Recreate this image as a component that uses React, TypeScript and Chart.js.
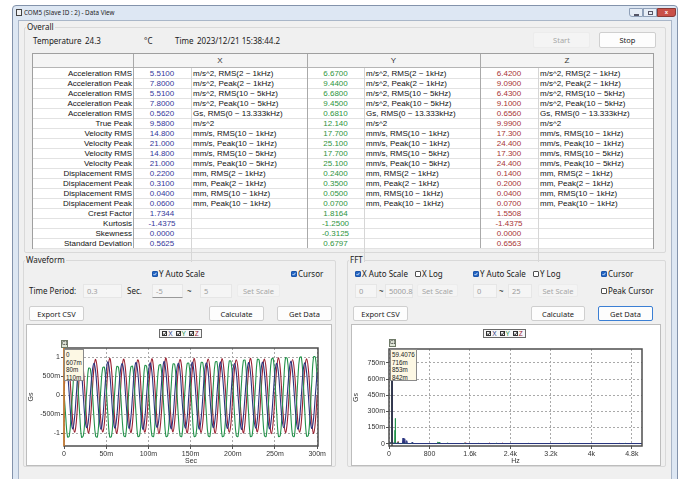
import React, { useEffect, useRef } from "react";
import { Chart, registerables } from "chart.js";

Chart.register(...registerables);

// ---------------- Overall table data ----------------
const rowLabels = [
  "Acceleration RMS", "Acceleration Peak", "Acceleration RMS", "Acceleration Peak",
  "Acceleration RMS", "True Peak", "Velocity RMS", "Velocity Peak", "Velocity RMS",
  "Velocity Peak", "Displacement RMS", "Displacement Peak", "Displacement RMS",
  "Displacement Peak", "Crest Factor", "Kurtosis", "Skewness", "Standard Deviation",
];
const unitLabels = [
  "m/s^2, RMS(2 ~ 1kHz)", "m/s^2, Peak(2 ~ 1kHz)", "m/s^2, RMS(10 ~ 5kHz)",
  "m/s^2, Peak(10 ~ 5kHz)", "Gs, RMS(0 ~ 13.333kHz)", "m/s^2", "mm/s, RMS(10 ~ 1kHz)",
  "mm/s, Peak(10 ~ 1kHz)", "mm/s, RMS(10 ~ 5kHz)", "mm/s, Peak(10 ~ 5kHz)",
  "mm, RMS(2 ~ 1kHz)", "mm, Peak(2 ~ 1kHz)", "mm, RMS(10 ~ 1kHz)", "mm, Peak(10 ~ 1kHz)",
  "", "", "", "",
];
const xValues = ["5.5100", "7.8000", "5.5100", "7.8000", "0.5620", "9.5800", "14.800", "21.000", "14.800", "21.000", "0.2200", "0.3100", "0.0400", "0.0600", "1.7344", "-1.4375", "0.0000", "0.5625"];
const yValues = ["6.6700", "9.4400", "6.6800", "9.4500", "0.6810", "12.140", "17.700", "25.100", "17.700", "25.100", "0.2400", "0.3500", "0.0500", "0.0700", "1.8164", "-1.2500", "-0.3125", "0.6797"];
const zValues = ["6.4200", "9.0900", "6.4300", "9.1000", "0.6560", "9.9900", "17.300", "24.400", "17.300", "24.400", "0.1400", "0.2000", "0.0400", "0.0700", "1.5508", "-1.4375", "0.0000", "0.6563"];
const axisNames = ["X", "Y", "Z"];

// ---------------- Waveform data (Gs), 145 samples over 0..300 ms ----------------
const waveDurationMs = 300;
const waveX = [
  0.607, 0.85, 0.60, 0.02, -0.62, -0.88, -0.59, 0.01,
  0.63, 0.87, 0.58, -0.03, -0.64, -0.85, -0.62, 0.03,
  0.59, 0.84, 0.62, 0.01, -0.60, -0.89, -0.63, -0.02,
  0.62, 0.88, 0.60, -0.01, -0.63, -0.86, -0.58, 0.02,
  0.60, 0.83, 0.63, 0.03, -0.59, -0.87, -0.61, 0.00,
  0.64, 0.86, 0.59, -0.02, -0.62, -0.90, -0.60, 0.01,
  0.58, 0.85, 0.61, 0.00, -0.65, -0.84, -0.62, -0.01,
  0.62, 0.89, 0.60, 0.02, -0.61, -0.88, -0.59, 0.03,
  0.61, 0.84, 0.64, -0.01, -0.60, -0.86, -0.63, 0.00,
  0.59, 0.87, 0.58, 0.01, -0.63, -0.89, -0.61, -0.02,
  0.63, 0.85, 0.62, -0.02, -0.62, -0.85, -0.60, 0.02,
  0.60, 0.88, 0.59, 0.03, -0.64, -0.87, -0.62, 0.01,
  0.62, 0.83, 0.61, 0.00, -0.59, -0.90, -0.58, -0.01,
  0.58, 0.86, 0.63, -0.01, -0.61, -0.86, -0.63, 0.02,
  0.64, 0.87, 0.60, 0.02, -0.63, -0.88, -0.60, 0.00,
  0.61, 0.84, 0.58, -0.03, -0.62, -0.85, -0.61, 0.01,
  0.59, 0.89, 0.62, 0.01, -0.60, -0.89, -0.62, -0.02,
  0.63, 0.85, 0.60, 0.00, -0.64, -0.87, -0.59, 0.02,
  0.60,
];
const waveY = [
  0.08, -0.57, -1.09, -1.07, -0.55, 0.15, 0.69, 0.67,
  0.19, -0.55, -1.10, -1.06, -0.57, 0.18, 0.71, 0.69,
  0.18, -0.56, -1.07, -1.09, -0.54, 0.20, 0.72, 0.73,
  0.22, -0.54, -1.09, -1.08, -0.56, 0.20, 0.75, 0.73,
  0.21, -0.55, -1.06, -1.08, -0.53, 0.23, 0.74, 0.76,
  0.24, -0.52, -1.08, -1.06, -0.54, 0.22, 0.78, 0.76,
  0.24, -0.54, -1.06, -1.08, -0.52, 0.26, 0.78, 0.80,
  0.27, -0.51, -1.08, -1.06, -0.53, 0.25, 0.82, 0.80,
  0.26, -0.52, -1.06, -1.08, -0.50, 0.28, 0.82, 0.84,
  0.30, -0.50, -1.08, -1.06, -0.52, 0.28, 0.86, 0.84,
  0.29, -0.51, -1.06, -1.08, -0.49, 0.31, 0.86, 0.88,
  0.33, -0.49, -1.08, -1.06, -0.51, 0.31, 0.90, 0.88,
  0.32, -0.50, -1.06, -1.08, -0.48, 0.34, 0.90, 0.92,
  0.35, -0.47, -1.08, -1.06, -0.49, 0.33, 0.94, 0.92,
  0.35, -0.49, -1.06, -1.08, -0.47, 0.37, 0.94, 0.96,
  0.38, -0.46, -1.08, -1.06, -0.48, 0.36, 0.98, 0.96,
  0.38, -0.48, -1.06, -1.08, -0.46, 0.40, 0.98, 1.00,
  0.41, -0.45, -1.07, -1.05, -0.47, 0.39, 1.01, 0.99,
  0.42,
];
const waveZ = [
  0.11, 0.69, 0.95, 0.70, 0.02, -0.68, -0.97, -0.70,
  -0.01, 0.69, 0.96, 0.68, -0.02, -0.71, -0.99, -0.67,
  0.03, 0.70, 0.94, 0.66, 0.01, -0.69, -0.96, -0.72,
  -0.02, 0.67, 0.97, 0.70, -0.01, -0.70, -1.00, -0.68,
  0.01, 0.71, 0.95, 0.67, 0.02, -0.67, -0.98, -0.71,
  0.00, 0.68, 0.93, 0.72, -0.03, -0.72, -0.97, -0.69,
  0.02, 0.66, 0.96, 0.69, 0.00, -0.69, -1.01, -0.70,
  -0.03, 0.70, 0.98, 0.67, 0.02, -0.70, -0.96, -0.66,
  0.01, 0.69, 0.94, 0.71, -0.02, -0.68, -0.99, -0.71,
  0.02, 0.67, 0.97, 0.68, 0.01, -0.71, -0.98, -0.69,
  -0.01, 0.71, 0.95, 0.70, -0.01, -0.69, -1.00, -0.68,
  0.03, 0.68, 0.96, 0.66, 0.02, -0.70, -0.97, -0.72,
  0.00, 0.70, 0.93, 0.69, -0.02, -0.67, -0.99, -0.70,
  -0.02, 0.66, 0.97, 0.71, 0.01, -0.71, -0.96, -0.67,
  0.02, 0.69, 0.95, 0.68, 0.00, -0.70, -1.01, -0.69,
  0.01, 0.71, 0.98, 0.70, -0.03, -0.68, -0.98, -0.71,
  -0.01, 0.67, 0.94, 0.67, 0.02, -0.69, -0.97, -0.70,
  0.02, 0.70, 0.96, 0.69, -0.01, -0.72, -1.00, -0.68,
  0.01,
];
const waveXTicks = [0, 50, 100, 150, 200, 250, 300];
const waveXTickLabels = ["0", "50m", "100m", "150m", "200m", "250m", "300m"];
const waveYTicks = [-1, -0.5, 0, 0.5, 1];
const waveYTickLabels = ["-1", "-500m", "0", "500m", "1"];
const waveCursorMs = 0;
const waveCursorReadout = ["0", "607m", "80m", "110m"];

// ---------------- FFT data (Hz, Gs) ----------------
const fftFreqX = [0, 3.3, 52.8, 56.1, 59.4, 62.7, 66.0, 72.6, 264.0, 277.2, 290.4, 297.0, 310.2, 323.4, 336.6, 349.8, 363.0, 442.2, 455.4, 468.6, 957.0, 970.2, 983.4, 1478.4, 1491.6, 1504.8, 2105.4, 2118.6, 2131.8, 3557.4, 3570.6, 3583.8, 4653.6, 4666.8, 4680.0, 5000.8];
const fftAmpX = [0.002, 0.004, 0.006, 0.030, 0.716, 0.445, 0.034, 0.004, 0.001, 0.052, 0.002, 0.001, 0.046, 0.002, 0.001, 0.028, 0.001, 0.001, 0.012, 0.001, 0.001, 0.005, 0.001, 0.001, 0.004, 0.001, 0.001, 0.005, 0.001, 0.001, 0.003, 0.001, 0.001, 0.004, 0.001, 0.001];
const fftFreqY = [0, 3.3, 52.8, 56.1, 59.4, 62.7, 66.0, 72.6, 112.2, 118.8, 122.1, 125.4, 132.0, 171.6, 178.2, 184.8, 950.4, 963.6, 976.8, 990.0, 1003.2, 1135.2, 1148.4, 1161.6, 1749.0, 1762.2, 1775.4, 2739.0, 2752.2, 2765.4, 5000.8];
const fftAmpY = [0.002, 0.003, 0.008, 0.045, 0.853, 0.520, 0.040, 0.003, 0.002, 0.125, 0.235, 0.030, 0.002, 0.001, 0.010, 0.001, 0.001, 0.016, 0.004, 0.014, 0.001, 0.001, 0.007, 0.001, 0.001, 0.004, 0.001, 0.001, 0.003, 0.001, 0.001];
const fftFreqZ = [0, 3.3, 52.8, 56.1, 59.4, 62.7, 66.0, 72.6, 171.6, 178.2, 184.8, 290.4, 297.0, 303.6, 1491.6, 1504.8, 1518.0, 1973.4, 1986.6, 1999.8, 2224.2, 2237.4, 2250.6, 4547.4, 4560.6, 4573.8, 5000.8];
const fftAmpZ = [0.002, 0.003, 0.007, 0.038, 0.842, 0.400, 0.036, 0.003, 0.001, 0.018, 0.001, 0.001, 0.020, 0.001, 0.001, 0.008, 0.001, 0.001, 0.005, 0.001, 0.001, 0.006, 0.001, 0.001, 0.004, 0.001, 0.001];
const fftXTicks = [0, 800, 1600, 2400, 3200, 4000, 4800];
const fftXTickLabels = ["0", "800", "1.6k", "2.4k", "3.2k", "4k", "4.8k"];
const fftYTicks = [0, 0.15, 0.3, 0.45, 0.6, 0.75];
const fftYTickLabels = ["0", "150m", "300m", "450m", "600m", "750m"];
const fftCursorHz = 59.4076;
const fftCursorReadout = ["59.4076", "716m", "853m", "842m"];

// ---------------- styles ----------------
const UI = '"Noto Sans", "Open Sans", sans-serif';
const TF = '"Liberation Sans", Arial, sans-serif';
const colX = "#2a347f";
const colY = "#23924a";
const colZ = "#9b2232";
const valColors = ["#34379a", "#2e9440", "#a83434"];

const abs = (l: number, t: number, w?: number, h?: number, extra: any = {}) => ({
  position: "absolute" as const, left: l, top: t, width: w, height: h, boxSizing: "border-box" as const, ...extra,
});

function T({ x, y, text, size = 8, color = "#1a1a1a", font = UI, bg }: any) {
  return (
    <div style={{ position: "absolute", left: x, top: y - size * 0.7, fontSize: size, lineHeight: `${size * 1.4}px`, color, fontFamily: font, whiteSpace: "nowrap", background: bg, padding: bg ? "0 1px" : 0 }}>
      {text}
    </div>
  );
}

function Btn({ x, y, w, h, text, disabled, focused }: any) {
  return (
    <div style={abs(x, y, w, h, {
      background: disabled ? "#f4f4f4" : "#fdfdfd",
      border: focused ? "1px solid #3b7fd4" : disabled ? "1px solid #ececec" : "1px solid #cfcfcf",
      borderRadius: 2, display: "flex", alignItems: "center", justifyContent: "center",
      fontFamily: UI, fontSize: 7.5, color: disabled ? "#a6a6a6" : "#1a1a1a", whiteSpace: "nowrap",
    })}>{text}</div>
  );
}

function TB({ x, y, w, h, text, underline }: any) {
  return (
    <div style={abs(x, y, w, h, {
      background: "#f5f5f5", border: "1px solid #e6e6e6", borderBottom: underline ? "1px solid #9a9a9a" : "1px solid #e6e6e6",
      fontFamily: UI, fontSize: 7.5, color: "#9c9c9c", display: "flex", alignItems: "center", paddingLeft: 3, whiteSpace: "nowrap",
    })}>{text}</div>
  );
}

function CB({ x, y, checked, label }: any) {
  return (
    <>
      <div style={abs(x, y - 3, 6, 6, {
        background: checked ? "#2466c4" : "#fff", border: checked ? "1px solid #1d55a8" : "1px solid #505050", borderRadius: 1,
      })}>
        {checked && (
          <svg width="4" height="4" viewBox="0 0 4 4" style={{ position: "absolute", left: 0, top: 0 }}>
            <path d="M0.5 2 L1.6 3.1 L3.5 0.8" stroke="#fff" strokeWidth="0.8" fill="none" />
          </svg>
        )}
      </div>
      <T x={x + 7} y={y} text={label} size={8} />
    </>
  );
}

function Group({ x, y, w, h, title }: any) {
  return (
    <>
      <div style={abs(x, y, w, h, { border: "1px solid #d9d9d9", borderRadius: 2 })} />
      <T x={x + 2} y={y} text={title} size={8} bg="#f0f0f0" />
    </>
  );
}

function Legend({ x, y }: any) {
  const items = [["X", colX], ["Y", colY], ["Z", colZ]];
  return (
    <div style={abs(x, y, 43, 9, { border: "1px solid #6a6a6a", background: "#f7f7f7", display: "flex", alignItems: "center", justifyContent: "center", gap: 3, fontFamily: TF, fontSize: 6.5 })}>
      {items.map(([n, c]) => (
        <span key={n} style={{ display: "flex", alignItems: "center", color: c }}>
          <span style={{ display: "inline-block", width: 5, height: 5, border: "1px solid #333", boxSizing: "border-box", marginRight: 1, position: "relative" }}>
            <svg width="5" height="5" viewBox="0 0 5 5" style={{ position: "absolute", left: -1, top: -1 }}>
              <path d="M1 2.5 L2.2 3.8 L4.5 0.8" stroke="#111" strokeWidth="0.9" fill="none" />
            </svg>
          </span>
          {n}
        </span>
      ))}
    </div>
  );
}

function Readout({ x, y, w, lines }: any) {
  return (
    <div style={abs(x, y, w, 32, { background: "#fdf8e4", border: "1px solid #8a8a8a", fontFamily: TF, fontSize: 6.3, lineHeight: "7.5px", color: "#222", padding: "1px 1px", whiteSpace: "nowrap" })}>
      {lines.map((l: string, i: number) => <div key={i}>{l}</div>)}
    </div>
  );
}

function CursorTag({ x, y }: any) {
  return (
    <div style={abs(x, y, 7, 8, { background: "#dfe6d8", border: "1px solid #6f7a68", fontFamily: TF, fontSize: 4.5, lineHeight: "6px", textAlign: "center", color: "#222", overflow: "hidden" })}>C1</div>
  );
}

// ---------------- chart helpers ----------------
const tickFont = { family: '"Liberation Sans", Arial, sans-serif', size: 7 };

const framePlugin = {
  id: "frame",
  afterDatasetsDraw(chart: any) {
    const { ctx, chartArea: a } = chart;
    ctx.save();
    ctx.strokeStyle = "#4e4e4e";
    ctx.lineWidth = 1.5;
    ctx.strokeRect(a.left, a.top, a.right - a.left, a.bottom - a.top);
    ctx.restore();
  },
};

const makeCursorPlugin = (value: number, color: string) => ({
  id: "cursorLine",
  afterDraw(chart: any) {
    const { ctx, chartArea: a, scales } = chart;
    const px = scales.x.getPixelForValue(value);
    ctx.save();
    ctx.strokeStyle = color;
    ctx.lineWidth = 1.3;
    ctx.beginPath();
    ctx.moveTo(px, a.top);
    ctx.lineTo(px, a.bottom);
    ctx.stroke();
    ctx.restore();
  },
});

function axisCommon(ticks: number[], labels: string[], title: string, isX: boolean, fit: number) {
  return {
    type: "linear" as const,
    afterBuildTicks: (s: any) => { s.ticks = ticks.map((v) => ({ value: v })); },
    afterFit: (s: any) => { if (isX) s.height = fit; else s.width = fit; },
    ticks: {
      autoSkip: false, maxRotation: 0, padding: 1, color: "#333", font: tickFont,
      callback: (_v: any, i: number) => labels[i],
    },
    grid: { color: "#a9a9a9", lineWidth: 1, tickLength: 3, tickColor: "#555", drawTicks: true },
    border: { display: false, dash: [2, 2] },
    title: { display: true, text: title, color: "#333", font: tickFont, padding: 0 },
  };
}

export default function App() {
  const waveRef = useRef<HTMLCanvasElement>(null);
  const fftRef = useRef<HTMLCanvasElement>(null);

  useEffect(() => {
    const step = waveDurationMs / (waveX.length - 1);
    const pts = (arr: number[]) => arr.map((v, i) => ({ x: i * step, y: v }));
    const wave = new Chart(waveRef.current!, {
      type: "line",
      data: {
        datasets: [
          { label: "X", data: pts(waveX), borderColor: colX, borderWidth: 1.1, tension: 0.4 },
          { label: "Y", data: pts(waveY), borderColor: colY, borderWidth: 1.1, tension: 0.4 },
          { label: "Z", data: pts(waveZ), borderColor: colZ, borderWidth: 1.1, tension: 0.4 },
        ],
      },
      options: {
        responsive: false, animation: false, parsing: false as any,
        layout: { padding: { top: 23, right: 14, left: 0, bottom: 0 } },
        elements: { point: { radius: 0 } },
        plugins: { legend: { display: false }, tooltip: { enabled: false } },
        scales: {
          x: { ...axisCommon(waveXTicks, waveXTickLabels, "Sec", true, 19), min: 0, max: 301 },
          y: { ...axisCommon(waveYTicks, waveYTickLabels, "Gs", false, 37), min: -1.33, max: 1.24 },
        },
      },
      plugins: [framePlugin, makeCursorPlugin(waveCursorMs, "#ee8a2a")],
    });

    const fpts = (f: number[], a: number[]) => f.map((v, i) => ({ x: v, y: a[i] }));
    const fft = new Chart(fftRef.current!, {
      type: "line",
      data: {
        datasets: [
          { label: "X", data: fpts(fftFreqX, fftAmpX), borderColor: colX, borderWidth: 1, tension: 0 },
          { label: "Y", data: fpts(fftFreqY, fftAmpY), borderColor: colY, borderWidth: 1, tension: 0 },
          { label: "Z", data: fpts(fftFreqZ, fftAmpZ), borderColor: colZ, borderWidth: 1, tension: 0 },
        ],
      },
      options: {
        responsive: false, animation: false, parsing: false as any,
        layout: { padding: { top: 24, right: 19, left: 0, bottom: 0 } },
        elements: { point: { radius: 0 } },
        plugins: { legend: { display: false }, tooltip: { enabled: false } },
        scales: {
          x: { ...axisCommon(fftXTicks, fftXTickLabels, "Hz", true, 19), min: 0, max: 5000.8 },
          y: { ...axisCommon(fftYTicks, fftYTickLabels, "Gs", false, 37), min: -0.022, max: 0.88 },
        },
      },
      plugins: [framePlugin, makeCursorPlugin(fftCursorHz, "#3a3a3a")],
    });

    return () => { wave.destroy(); fft.destroy(); };
  }, []);

  const colEdges = [32, 133, 191, 307, 364, 480, 538, 654];
  const tableTop = 53;
  const headerH = 15;
  const rowH = 10;
  const valueCols = [xValues, yValues, zValues];

  return (
    <div style={abs(0, 0, 683, 479, { background: "#ffffff", overflow: "hidden" })}>
      {/* window frame */}
      <div style={abs(12, 5, 666, 490, { background: "#dde7f3", border: "1px solid #8393ab", borderRadius: "4px 4px 0 0" })} />
      <div style={abs(16, 9, 6, 7, { border: "1px solid #444", background: "#f2f2f2" })} />
      <T x={24} y={13} text="COM5 (Slave ID : 2) - Data View" size={6.3} color="#1e1e1e" />
      <div style={abs(629, 8, 14, 9, { background: "#e6edf6", border: "1px solid #8fa0b8", borderRadius: "0 0 0 3px" })}>
        <div style={abs(4, 5, 5, 1.5, { background: "#556" })} />
      </div>
      <div style={abs(643, 8, 14, 9, { background: "#e6edf6", border: "1px solid #8fa0b8" })}>
        <div style={abs(4, 1.5, 5, 4, { border: "1px solid #556" })} />
      </div>
      <div style={abs(657, 8, 19, 9, { background: "#c95048", border: "1px solid #8a3a36", borderRadius: "0 0 3px 0", color: "#fff", fontFamily: TF, fontSize: 6, lineHeight: "7px", textAlign: "center", fontWeight: "bold" })}>x</div>

      {/* client area */}
      <div style={abs(18, 20, 654, 470, { background: "#f0f0f0", border: "1px solid #a9b6c8" })} />

      {/* Overall */}
      <Group x={24} y={27} w={642} h={226} title="Overall" />
      <T x={33} y={41} text="Temperature" />
      <T x={85} y={41} text="24.3" />
      <T x={144} y={41} text="°C" />
      <T x={175} y={41} text="Time" />
      <T x={197} y={41} text="2023/12/21  15:38:44.2" />
      <Btn x={533} y={32} w={57} h={16} text="Start" disabled />
      <Btn x={599} y={32} w={57} h={16} text="Stop" />

      {/* table */}
      <div style={abs(colEdges[0], tableTop, colEdges[7] - colEdges[0], headerH + rowH * 18 + 1, { background: "#fff", border: "1px solid #9f9f9f" })} />
      <div style={abs(colEdges[0] + 1, tableTop + 1, colEdges[7] - colEdges[0] - 2, headerH - 1, { background: "#f4f4f4", borderBottom: "1px solid #b5b5b5" })} />
      {rowLabels.map((_, i) => (
        <div key={"rl" + i} style={abs(colEdges[0] + 1, tableTop + headerH + rowH * (i + 1), colEdges[7] - colEdges[0] - 2, 1, { background: "#e2e2e2" })} />
      ))}
      {colEdges.slice(1, 7).map((x, i) => (
        <div key={"cl" + i} style={abs(x, tableTop + 1, 1, headerH + rowH * 18 - 1, { background: i % 2 === 0 ? "#a9a9a9" : "#d6d6d6", top: i % 2 === 0 ? tableTop + 1 : tableTop + headerH })} />
      ))}
      {axisNames.map((n, k) => (
        <div key={"h" + n} style={abs(colEdges[1 + 2 * k], tableTop, colEdges[3 + 2 * k] - colEdges[1 + 2 * k], headerH, { display: "flex", alignItems: "center", justifyContent: "center", fontFamily: TF, fontSize: 8, color: "#333" })}>{n}</div>
      ))}
      {rowLabels.map((lab, i) => {
        const top = tableTop + headerH + rowH * i;
        return (
          <React.Fragment key={"r" + i}>
            <div style={abs(colEdges[0], top, colEdges[1] - colEdges[0] - 1, rowH, { textAlign: "right", fontFamily: TF, fontSize: 8, lineHeight: `${rowH + 1}px`, color: "#111", whiteSpace: "nowrap" })}>{lab}</div>
            {valueCols.map((vals, k) => (
              <React.Fragment key={k}>
                <div style={abs(colEdges[1 + 2 * k], top, colEdges[2 + 2 * k] - colEdges[1 + 2 * k], rowH, { textAlign: "center", fontFamily: TF, fontSize: 8, lineHeight: `${rowH + 1}px`, color: valColors[k], whiteSpace: "nowrap" })}>{vals[i]}</div>
                <div style={abs(colEdges[2 + 2 * k] + 2, top, colEdges[3 + 2 * k] - colEdges[2 + 2 * k] - 2, rowH, { fontFamily: TF, fontSize: 8, lineHeight: `${rowH + 1}px`, color: "#111", whiteSpace: "nowrap" })}>{unitLabels[i]}</div>
              </React.Fragment>
            ))}
          </React.Fragment>
        );
      })}

      {/* Waveform group */}
      <Group x={23} y={260} w={313} h={207} title="Waveform" />
      <CB x={152} y={274} checked label="Y Auto Scale" />
      <CB x={291} y={274} checked label="Cursor" />
      <T x={29} y={291} text="Time Period:" />
      <TB x={83} y={284} w={39} h={14} text="0.3" />
      <T x={127} y={291} text="Sec." />
      <TB x={152} y={284} w={31} h={14} text="-5" underline />
      <T x={187} y={291} text="~" />
      <TB x={200} y={284} w={32} h={14} text="5" />
      <Btn x={237} y={284} w={43} h={13} text="Set Scale" disabled />
      <Btn x={29} y={306} w={55} h={15} text="Export CSV" />
      <Btn x={209} y={306} w={55} h={15} text="Calculate" />
      <Btn x={277} y={306} w={55} h={15} text="Get Data" />
      <div style={abs(26, 324, 306, 142, { background: "#fff", border: "1px solid #bdbdbd" })} />
      <canvas ref={waveRef} width={305} height={140} style={abs(27, 325, 305, 140)} />
      <Legend x={159} y={329} />
      <CursorTag x={61} y={340} />
      <Readout x={64} y={349} w={20} lines={waveCursorReadout} />

      {/* FFT group */}
      <Group x={347} y={260} w={319} h={207} title="FFT" />
      <CB x={355} y={274} checked label="X Auto Scale" />
      <CB x={415} y={274} label="X Log" />
      <CB x={473} y={274} checked label="Y Auto Scale" />
      <CB x={533} y={274} label="Y Log" />
      <CB x={601} y={274} checked label="Cursor" />
      <TB x={355} y={284} w={22} h={14} text="0" />
      <T x={379} y={291} text="~" />
      <TB x={385} y={284} w={28} h={14} text="5000.8" />
      <Btn x={417} y={284} w={41} h={13} text="Set Scale" disabled />
      <TB x={473} y={284} w={24} h={14} text="0" />
      <T x={499} y={291} text="~" />
      <TB x={508} y={284} w={24} h={14} text="25" />
      <Btn x={538} y={284} w={40} h={13} text="Set Scale" disabled />
      <CB x={601} y={291} label="Peak Cursor" />
      <Btn x={353} y={306} w={55} h={15} text="Export CSV" />
      <Btn x={531} y={306} w={54} h={15} text="Calculate" />
      <Btn x={598} y={306} w={55} h={15} text="Get Data" focused />
      <div style={abs(351, 324, 310, 142, { background: "#fff", border: "1px solid #bdbdbd" })} />
      <canvas ref={fftRef} width={309} height={140} style={abs(352, 325, 309, 140)} />
      <Legend x={483} y={329} />
      <CursorTag x={389} y={339} />
      <Readout x={390} y={349} w={27} lines={fftCursorReadout} />
    </div>
  );
}
